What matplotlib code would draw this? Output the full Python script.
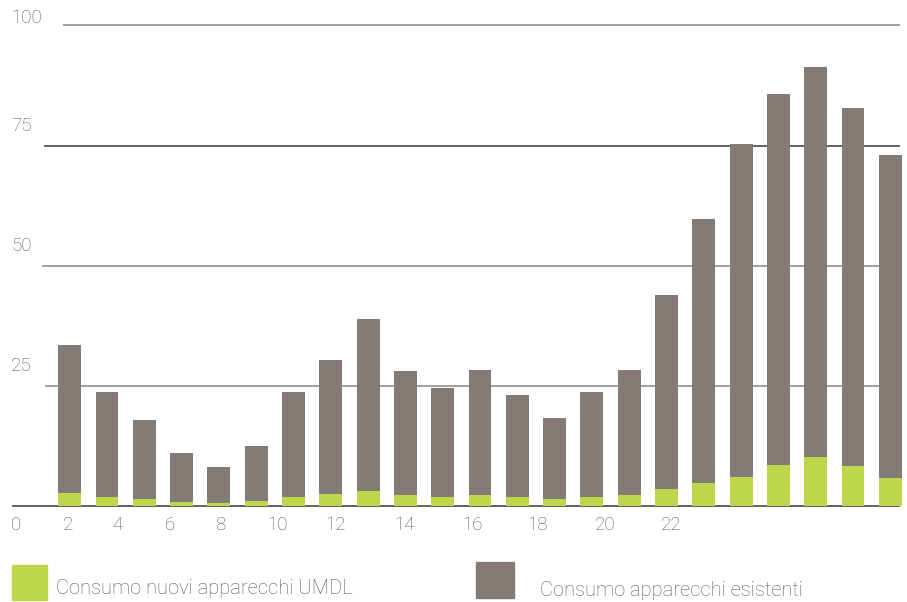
import matplotlib
matplotlib.use("Agg")
import matplotlib.pyplot as plt
from matplotlib.patches import Rectangle

# ---- data ----
totals = [33.5, 23.8, 17.9, 11.1, 8.2, 12.5, 23.8, 30.4, 38.9, 28.1, 24.6, 28.3,
          23.1, 18.4, 23.8, 28.3, 43.9, 59.7, 75.3, 85.7, 91.3, 82.8, 73.0]
new_umdl = [2.8, 1.9, 1.5, 0.9, 0.7, 1.1, 1.9, 2.6, 3.2, 2.4, 1.9, 2.4,
            1.9, 1.5, 1.9, 2.4, 3.6, 4.9, 6.1, 8.6, 10.3, 8.4, 5.9]
existing = [t - n for t, n in zip(totals, new_umdl)]
x_tick_labels = ["0", "2", "4", "6", "8", "10", "12", "14", "16", "18", "20", "22"]
x_tick_pos = [-1.44, -0.05, 1.29, 2.69, 4.03, 5.56, 7.14, 8.97, 10.79, 12.55, 14.35, 16.12]
y_ticks = [0, 25, 50, 75, 100]
legend_labels = ["Consumo nuovi apparecchi UMDL", "Consumo apparecchi esistenti"]

GREEN = "#bdd74b"
GRAY = "#847b77"
TXT = "#5a5a5a"

W, H = 907, 602
fig = plt.figure(figsize=(W / 100, H / 100), dpi=100)
ax = fig.add_axes([0, 0, 1, 1])

# pixel mapping: bar i center at 69.7 + 37.3*i ; baseline at y=506.3px, 4.81 px/unit
x0, dx = 69.7, 37.3
y0, dy = 506.3, 4.81
ax.set_xlim((0 - x0) / dx, (W - x0) / dx)
ax.set_ylim(-(H - y0) / dy, y0 / dy)
ax.axis("off")

def px2x(p):
    return (p - x0) / dx

# gridlines
grid_start = {0: 12, 25: 45, 50: 42, 75: 44, 100: 63}
grid_color = {0: "#555555", 25: "#999999", 50: "#999999", 75: "#555555", 100: "#999999"}
for v in y_ticks:
    ax.hlines(v, px2x(grid_start[v]), px2x(900), color=grid_color[v], lw=1.3, zorder=1)

idx = list(range(len(totals)))
ax.bar(idx, new_umdl, width=0.615, color=GREEN, zorder=2)
ax.bar(idx, existing, bottom=new_umdl, width=0.615, color=GRAY, zorder=2)

# y labels (above lines, at left)
label_offset_px = {25: 20, 50: 20, 75: 20, 100: 7}
for v in y_ticks[1:]:
    ax.text(px2x(11), v + label_offset_px[v] / dy, str(v), ha="left", va="center",
            fontsize=13.5, color=TXT, family="Roboto", fontweight="light")
# x labels
for p, lab in zip(x_tick_pos, x_tick_labels):
    ax.text(p, -19 / dy, lab, ha="center", va="center",
            fontsize=13.5, color=TXT, family="Roboto", fontweight="light")

# legend
def frect(xp, yp, w, h, c):
    fig.patches.append(Rectangle((xp / W, 1 - (yp + h) / H), w / W, h / H,
                                 transform=fig.transFigure, color=c, figure=fig))
frect(12, 565, 35, 35, GREEN)
frect(476, 562, 38, 36, GRAY)
fig.text(56 / W, 1 - 589 / H, legend_labels[0], ha="left", va="center",
         fontsize=14.5, color=TXT, family="Roboto", fontweight="light")
fig.text(540 / W, 1 - 591 / H, legend_labels[1], ha="left", va="center",
         fontsize=14.5, color=TXT, family="Roboto", fontweight="light")

fig.savefig("out.png", dpi=100)
